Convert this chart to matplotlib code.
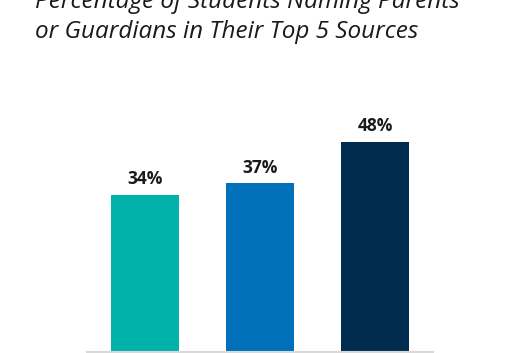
import numpy as np
import matplotlib.pyplot as plt

# bar data
categories = ["Group A", "Group B", "Group C"]
values = [34, 37, 48]
labels = ["34%", "37%", "48%"]
colors = ["#00B2A9", "#0070BA", "#002D4F"]

title_lines = ["Percentage of Students Naming Parents",
               "or Guardians in Their Top 5 Sources"]

fig = plt.figure(figsize=(5.29, 3.53), dpi=100)
ax = fig.add_axes([87 / 529, 1 / 353, 346 / 529, 252 / 353])

# the reference is cropped just below the zero line, so bars run to the axis floor
y_floor = -7.8
x = np.arange(len(values))
ax.bar(x, np.array(values) - y_floor, bottom=y_floor, width=0.59, color=colors)

for xi, v, lab in zip(x, values, labels):
    ax.text(xi, v + 2.8, lab, ha="center", va="baseline",
            fontsize=12.5, fontweight="bold", family="Open Sans", color="#1a1a1a")

ax.set_xlim(-0.5, 2.5)
ax.set_ylim(y_floor, 59.1)
ax.set_xticks([])
ax.set_yticks([])
for side in ["top", "left", "right"]:
    ax.spines[side].set_visible(False)
ax.spines["bottom"].set_color("#d9d9d9")
ax.spines["bottom"].set_linewidth(1.5)

# title, partly cut off at the top like the reference
fig.text(35 / 529, 1 - 8 / 353, title_lines[0], fontsize=17.5, style="italic",
         family="Open Sans", color="#1a1a1a", va="baseline")
fig.text(35 / 529, 1 - 38 / 353, title_lines[1], fontsize=17.5, style="italic",
         family="Open Sans", color="#1a1a1a", va="baseline")

fig.savefig("out.png", dpi=100)
